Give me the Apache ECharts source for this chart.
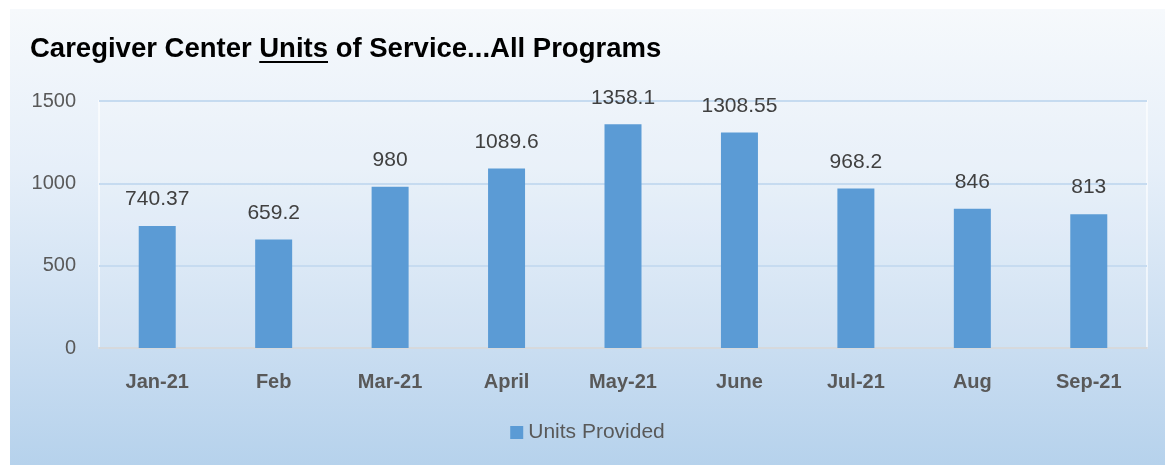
<!DOCTYPE html>
<html>
<head>
<meta charset="utf-8">
<script src="https://cdn.jsdelivr.net/npm/echarts@6/dist/echarts.min.js"></script>
<style>
    html, body { margin: 0; padding: 0; background: #ffffff; }
    #chart {
        position: absolute; left: 10px; top: 9px; width: 1155px; height: 456px;
        background: linear-gradient(to bottom, #f6f9fc 0%, #e6eff9 35%, #c9ddf1 75%, #b6d2ec 100%);
    }
</style>
</head>
<body>
<div id="chart"></div>
<script>
const months = ["Jan-21", "Feb", "Mar-21", "April", "May-21", "June", "Jul-21", "Aug", "Sep-21"];
const unitsProvided = [740.37, 659.2, 980, 1089.6, 1358.1, 1308.55, 968.2, 846, 813];
const titleParts = ["Caregiver Center ", "Units", " of Service...All Programs"];

const titleSize = 27.5;
const titleFont = "bold " + titleSize + "px 'Liberation Sans', Arial, sans-serif";
const ctx = document.createElement("canvas").getContext("2d");
ctx.font = titleFont;
const preWidth = ctx.measureText(titleParts[0]).width;
const unitsWidth = ctx.measureText(titleParts[1]).width;

const titleLeft = 20;
const titleTop = 26;

const chart = echarts.init(document.getElementById("chart"));
const option = {
    backgroundColor: "transparent",
    animation: false,
    textStyle: { fontFamily: "'Liberation Sans', Arial, sans-serif" },
    title: {
        left: titleLeft,
        top: titleTop,
        padding: 0,
        text: "{a|" + titleParts[0] + "}{a|" + titleParts[1] + "}{a|" + titleParts[2] + "}",
        textStyle: {
            rich: {
                a: { fontSize: titleSize, fontWeight: "bold", color: "#000000", fontFamily: "'Liberation Sans', Arial, sans-serif" }
            }
        }
    },
    graphic: [
        {
            type: "rect",
            shape: { x: titleLeft + preWidth, y: titleTop + 26, width: unitsWidth, height: 2 },
            style: { fill: "#000000" }
        }
    ],
    legend: {
        bottom: 17,
        left: "center",
        icon: "rect",
        itemWidth: 13,
        itemHeight: 13,
        itemGap: 6,
        data: ["Units Provided"],
        textStyle: { fontSize: 21, color: "#595959" }
    },
    grid: {
        left: 89,
        right: 18,
        top: 92,
        bottom: 117,
        show: true,
        backgroundColor: "rgba(255,255,255,0.12)",
        borderColor: "rgba(255,255,255,0.6)",
        borderWidth: 2,
        containLabel: false
    },
    xAxis: {
        type: "category",
        data: months,
        axisTick: { show: false },
        axisLine: { show: true, lineStyle: { color: "#d6d9dc", width: 2 } },
        axisLabel: { fontSize: 20, fontWeight: "bold", color: "#595959", margin: 24 }
    },
    yAxis: {
        type: "value",
        min: 0,
        max: 1500,
        interval: 500,
        axisLine: { show: false },
        axisTick: { show: false },
        axisLabel: { fontSize: 20, color: "#595959", margin: 23, formatter: function (v) { return String(v); } },
        splitLine: { lineStyle: { color: "#c6dbf0", width: 2 } }
    },
    series: [
        {
            name: "Units Provided",
            type: "bar",
            data: unitsProvided,
            barWidth: 37,
            itemStyle: { color: "#5b9bd5" },
            label: {
                show: true,
                position: "top",
                distance: 16,
                fontSize: 21,
                color: "#404040"
            }
        }
    ]
};
chart.setOption(option);
</script>
</body>
</html>
